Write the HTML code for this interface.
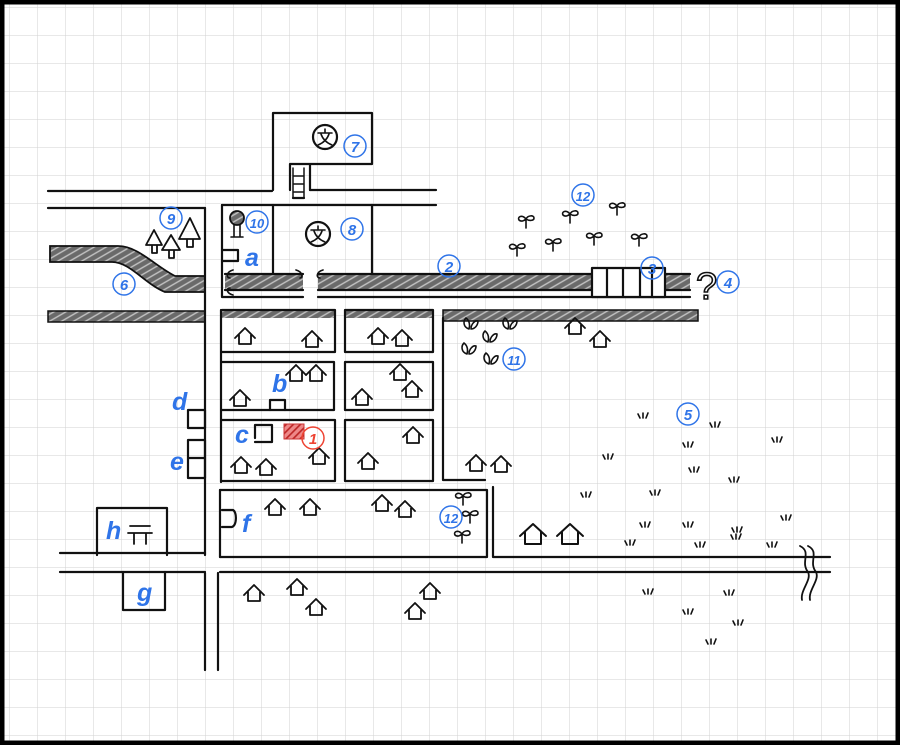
<!DOCTYPE html>
<html><head><meta charset="utf-8"><style>
html,body{margin:0;padding:0;background:#fff}
svg{display:block}
.l{fill:none;stroke:#111;stroke-width:2.2;stroke-linecap:round;stroke-linejoin:round}
.lab{font-family:"Liberation Sans",sans-serif;font-style:italic;font-weight:bold;fill:#2f74e8;font-size:25px}
.num{font-family:"Liberation Sans",sans-serif;font-style:italic;font-weight:bold;fill:#2f74e8;font-size:15px;text-anchor:middle}
.c{fill:none;stroke:#2f74e8;stroke-width:1.5}
</style></head><body>
<svg width="900" height="745" viewBox="0 0 900 745" xmlns="http://www.w3.org/2000/svg">
<defs>
<pattern id="grid" width="28" height="28" patternUnits="userSpaceOnUse" x="10" y="8">
<path d="M28 0V28M0 28H28" fill="none" stroke="#d2d2d2" stroke-width="1"/>
</pattern>
<pattern id="hat" width="6" height="6" patternUnits="userSpaceOnUse" patternTransform="rotate(-30)">
<rect width="6" height="6" fill="#6a6a6a"/><path d="M0 3H6" stroke="#c4c4c4" stroke-width="1.4"/>
</pattern>
<pattern id="hatr" width="5" height="5" patternUnits="userSpaceOnUse" patternTransform="rotate(-45)">
<rect width="5" height="5" fill="#e88"/><path d="M0 2.5H5" stroke="#b22" stroke-width="1.6"/>
</pattern>
<g id="h"><path class="l" style="stroke-width:1.8" d="M-10 3L0-7L10 3M-6 0V9H6V0"/></g>
<g id="H"><path class="l" style="stroke-width:2" d="M-13 4L0-8L13 4M-8 0V12H8V0"/></g>
<g id="s"><path class="l" style="stroke-width:1.6" d="M0 8V-1M0-1C-4-6-9-3-7 0C-5 2-2 1 0-1C2-5 8-5 8-2C8 1 3 1 0-1"/></g>
<g id="lf"><path class="l" style="stroke-width:1.6" d="M0 5C-6 3-6-3-3-6C1-3 1 2 0 5ZM2 5C2 0 6-4 9-3C9 1 6 5 2 5Z"/></g>
<g id="g"><path class="l" style="stroke-width:1.6" d="M-5-2L-3 2M0-3V2M5-3L3 2"/></g>
<g id="sch"><circle r="12" class="l"/><path class="l" style="stroke-width:1.6" d="M0-8V-5M-7-4H7M-4-3C-2 3 2 6 7 8M4-3C2 3-2 6-7 8"/></g>
</defs>
<rect width="900" height="745" fill="#fff"/>
<rect width="900" height="745" fill="url(#grid)"/>
<rect x="2" y="2" width="896" height="741" fill="none" stroke="#000" stroke-width="5"/>

<path class="l" d="M48 191H272M310 190H436M48 208H205M222 205H436"/>
<path class="l" d="M273 190V113H372V164H310V190M290 190V164H310"/>
<path class="l" style="stroke-width:1.5" d="M293 168V198M304 168V198M293 176H304M293 184H304M293 192H304"/>
<path class="l" d="M293 198H304"/>
<use href="#sch" x="325" y="137"/>
<path class="l" d="M222 205V297H303M273 205V273M372 205V273"/>
<use href="#sch" x="318" y="234"/>
<rect x="225" y="274" width="78" height="16" fill="url(#hat)"/>
<rect x="318" y="274" width="372" height="16" fill="url(#hat)"/>
<path class="l" d="M225 274H303M318 274H690M225 290H303M318 290H690M318 297H690"/>
<path class="l" style="stroke-width:1.6" d="M233 270C226 272 226 278 230 278M233 295C226 293 226 288 230 288M296 270C303 272 303 278 300 278M323 270C316 272 316 278 320 278"/>
<rect x="592" y="268" width="73" height="28" fill="#fff"/>
<path class="l" d="M592 268H665V297H592ZM607 269V297M623 269V297M640 269V297M652 269V297"/>
<path d="M50 246H118C138 246 155 266 175 276H205V292H165C145 284 130 262 112 262H50Z" fill="url(#hat)" stroke="#111" stroke-width="1.8"/>
<rect x="48" y="311" width="157" height="11" fill="url(#hat)" stroke="#111" stroke-width="1.5"/>
<rect x="222" y="310" width="113" height="8" fill="url(#hat)"/>
<rect x="345" y="310" width="88" height="8" fill="url(#hat)"/>
<rect x="443" y="310" width="255" height="11" fill="url(#hat)" stroke="#111" stroke-width="1.5"/>
<path class="l" d="M205 208V555M205 573V670M221 310V482M220 490V557M218 573V670"/>
<path class="l" d="M222 310H335V352H222M345 310H433V352H345ZM222 362H334V410H222M345 362H433V410H345ZM222 420H335V481H222M345 420H433V481H345ZM220 490H487V557H220M443 318V480H485"/>
<path class="l" d="M493 487V557H830M220 572H830M60 553H205M60 572H205"/>
<path class="l" style="stroke-width:1.8" d="M800 546C812 552 800 562 808 572C812 580 800 590 802 600M808 546C820 552 808 562 816 572C820 580 808 590 810 600"/>
<path class="l" d="M188 410H205V428H188ZM188 440H205V458H188ZM188 458H205V478H188Z"/>
<path class="l" d="M97 555V508H167V555M123 572V610H165V572"/>
<path class="l" style="stroke-width:1.8" d="M130 526H150M128 533H152M134 533V544M146 533V544"/>
<path class="l" d="M222 250H238V261H222M270 410V400H285V410M255 438V425H272V442H255M222 510H233C237 512 237 525 232 527H222"/>
<rect x="284" y="424" width="20" height="15" fill="url(#hatr)" stroke="#c33" stroke-width="1"/>
<circle cx="237" cy="218" r="7" fill="url(#hat)" stroke="#111" stroke-width="1.8"/>
<path class="l" style="stroke-width:1.6" d="M234 225V237M240 225V237M231 237H243"/>
<path class="l" style="stroke-width:1.8" d="M154 230L146 245H162ZM152 245V253H157V245M171 235L162 250H180ZM169 250V258H174V250M190 218L179 239H200ZM187 239V247H193V239"/>
<text x="696" y="299" font-family="Liberation Sans,sans-serif" font-size="38" fill="none" stroke="#111" stroke-width="1.6">?</text>
<use href="#h" x="245" y="335"/><use href="#h" x="312" y="338"/><use href="#h" x="378" y="335"/><use href="#h" x="402" y="337"/>
<use href="#h" x="296" y="372"/><use href="#h" x="316" y="372"/><use href="#h" x="240" y="397"/><use href="#h" x="400" y="371"/><use href="#h" x="412" y="388"/><use href="#h" x="362" y="396"/>
<use href="#h" x="413" y="434"/><use href="#h" x="368" y="460"/><use href="#h" x="241" y="464"/><use href="#h" x="266" y="466"/><use href="#h" x="319" y="455"/>
<use href="#h" x="476" y="462"/><use href="#h" x="501" y="463"/><use href="#h" x="275" y="506"/><use href="#h" x="310" y="506"/><use href="#h" x="382" y="502"/><use href="#h" x="405" y="508"/>
<use href="#h" x="254" y="592"/><use href="#h" x="297" y="586"/><use href="#h" x="316" y="606"/><use href="#h" x="430" y="590"/><use href="#h" x="415" y="610"/>
<use href="#h" x="575" y="325"/><use href="#h" x="600" y="338"/>
<use href="#H" x="533" y="532"/><use href="#H" x="570" y="532"/>
<use href="#s" x="526" y="220"/><use href="#s" x="570" y="215"/><use href="#s" x="617" y="207"/><use href="#s" x="517" y="248"/><use href="#s" x="553" y="243"/><use href="#s" x="594" y="237"/><use href="#s" x="639" y="238"/>
<use href="#s" x="463" y="497"/><use href="#s" x="470" y="515"/><use href="#s" x="462" y="535"/>
<use href="#lf" x="469" y="324"/><use href="#lf" x="508" y="324"/><use href="#lf" x="488" y="337"/><use href="#lf" x="467" y="349"/><use href="#lf" x="489" y="359"/>
<use href="#g" x="643" y="416"/><use href="#g" x="715" y="425"/><use href="#g" x="688" y="445"/><use href="#g" x="608" y="457"/><use href="#g" x="777" y="440"/><use href="#g" x="694" y="470"/><use href="#g" x="734" y="480"/><use href="#g" x="586" y="495"/><use href="#g" x="655" y="493"/><use href="#g" x="645" y="525"/><use href="#g" x="688" y="525"/><use href="#g" x="737" y="530"/><use href="#g" x="786" y="518"/><use href="#g" x="630" y="543"/><use href="#g" x="700" y="545"/><use href="#g" x="736" y="537"/><use href="#g" x="772" y="545"/><use href="#g" x="648" y="592"/><use href="#g" x="729" y="593"/><use href="#g" x="688" y="612"/><use href="#g" x="738" y="623"/><use href="#g" x="711" y="642"/>
<text class="lab" x="245" y="266">a</text><text class="lab" x="272" y="392">b</text><text class="lab" x="235" y="443">c</text><text class="lab" x="172" y="410">d</text><text class="lab" x="170" y="470">e</text><text class="lab" x="242" y="532">f</text><text class="lab" x="137" y="601">g</text><text class="lab" x="106" y="539">h</text>
<g>
<circle class="c" cx="355" cy="146" r="11"/><text class="num" x="355" y="152">7</text>
<circle class="c" cx="352" cy="229" r="11"/><text class="num" x="352" y="235">8</text>
<circle class="c" cx="171" cy="218" r="11"/><text class="num" x="171" y="224">9</text>
<circle class="c" cx="257" cy="222" r="11"/><text class="num" x="257" y="228" style="font-size:13px">10</text>
<circle class="c" cx="124" cy="284" r="11"/><text class="num" x="124" y="290">6</text>
<circle class="c" cx="449" cy="266" r="11"/><text class="num" x="449" y="272">2</text>
<circle class="c" cx="652" cy="268" r="11"/><text class="num" x="652" y="274">3</text>
<circle class="c" cx="728" cy="282" r="11"/><text class="num" x="728" y="288">4</text>
<circle class="c" cx="583" cy="195" r="11"/><text class="num" x="583" y="201" style="font-size:13px">12</text>
<circle class="c" cx="514" cy="359" r="11"/><text class="num" x="514" y="365" style="font-size:13px">11</text>
<circle class="c" cx="688" cy="414" r="11"/><text class="num" x="688" y="420">5</text>
<circle class="c" cx="451" cy="517" r="11"/><text class="num" x="451" y="523" style="font-size:13px">12</text>
<circle cx="313" cy="438" r="11" fill="none" stroke="#e43" stroke-width="1.5"/><text class="num" x="313" y="444" style="fill:#e43">1</text>
</g>
</svg>
</body></html>
